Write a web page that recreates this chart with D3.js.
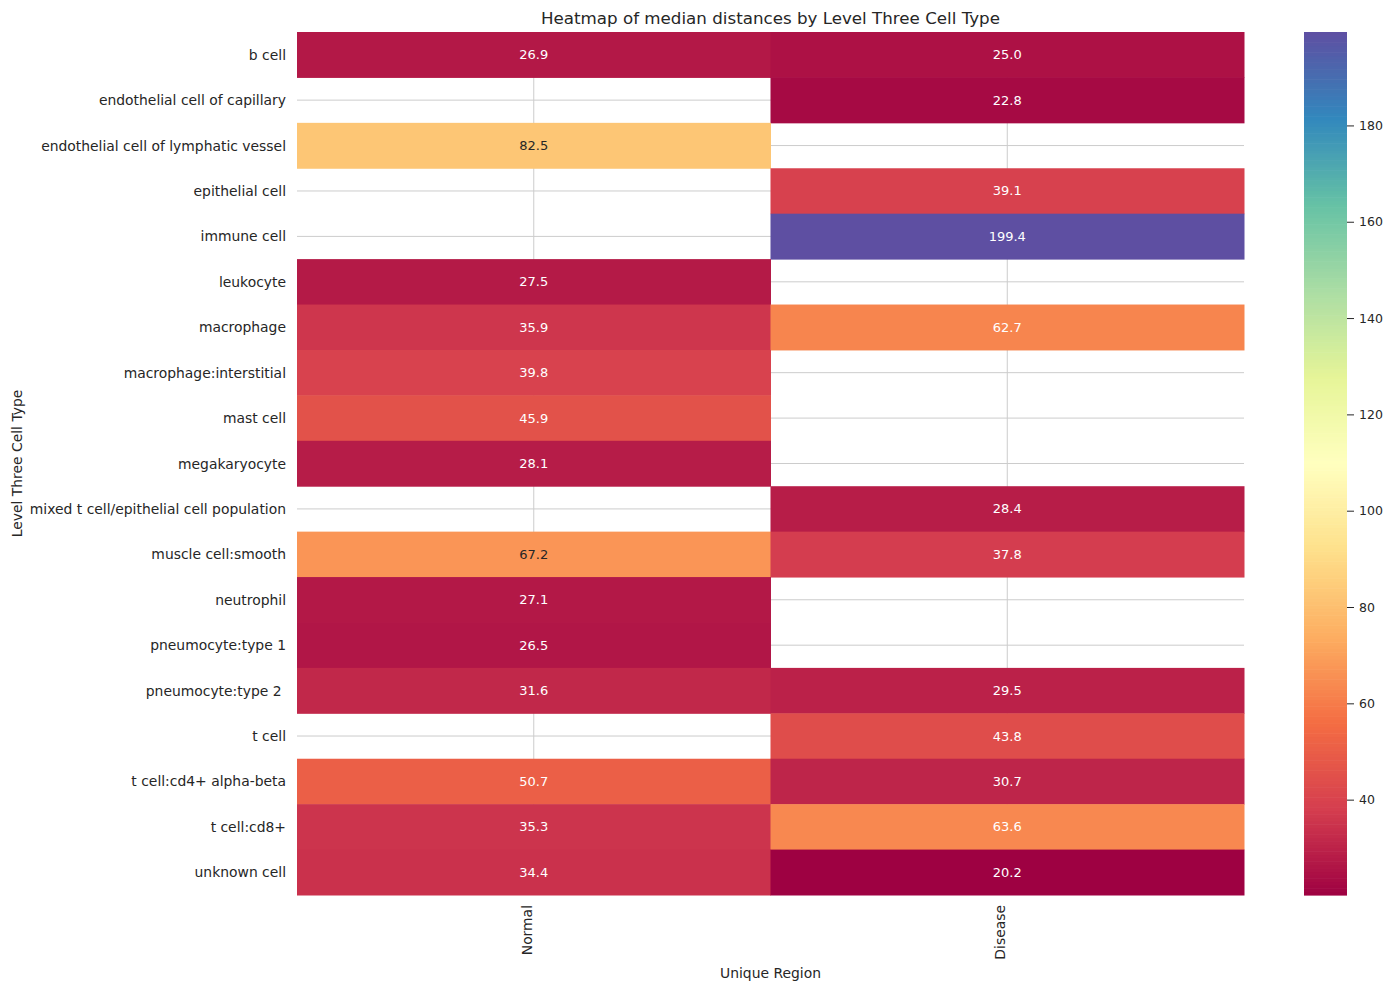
<!DOCTYPE html>
<html>
<head>
<meta charset="utf-8">
<script src="https://cdn.jsdelivr.net/npm/d3@7"></script>
<style>
  body { margin: 0; background: #fff; }
  text { font-family: "DejaVu Sans", sans-serif; fill: #262626; }
</style>
</head>
<body>
<div id="chart"></div>
<script>
// Heatmap data
const cellTypes = [
    "b cell", "endothelial cell of capillary", "endothelial cell of lymphatic vessel",
    "epithelial cell", "immune cell", "leukocyte", "macrophage", "macrophage:interstitial",
    "mast cell", "megakaryocyte", "mixed t cell/epithelial cell population",
    "muscle cell:smooth", "neutrophil", "pneumocyte:type 1", "pneumocyte:type 2 ",
    "t cell", "t cell:cd4+ alpha-beta", "t cell:cd8+", "unknown cell"
];
const regions = ["Normal", "Disease"];
const normalValues = [26.9, null, 82.5, null, null, 27.5, 35.9, 39.8, 45.9, 28.1, null,
                      67.2, 27.1, 26.5, 31.6, null, 50.7, 35.3, 34.4];
const diseaseValues = [25.0, 22.8, null, 39.1, 199.4, null, 62.7, null, null, null, 28.4,
                       37.8, null, null, 29.5, 43.8, 30.7, 63.6, 20.2];
const colorbarTicks = [40, 60, 80, 100, 120, 140, 160, 180];
const spectral = ["#9e0142", "#d53e4f", "#f46d43", "#fdae61", "#fee08b", "#ffffbf",
                  "#e6f598", "#abdda4", "#66c2a5", "#3288bd", "#5e4fa2"];

const W = 1391, H = 991;
const margin = {top: 32, left: 297},
      width = 947,
      height = 863;

const svg = d3.select("#chart").append("svg")
              .attr("width", W)
              .attr("height", H);

const g = svg.append("g").attr("transform", `translate(${margin.left},${margin.top})`);

const x = d3.scaleBand().domain(regions).range([0, width]);
const y = d3.scaleBand().domain(cellTypes).range([0, height]);

const allVals = normalValues.concat(diseaseValues).filter(v => v != null);
const vmin = d3.min(allVals), vmax = d3.max(allVals);

// linear segmented colormap like matplotlib
const color = d3.scaleLinear()
                .domain(spectral.map((c, i) => vmin + (vmax - vmin) * i / (spectral.length - 1)))
                .range(spectral)
                .interpolate(d3.interpolateRgb)
                .clamp(true);

// grid lines (behind cells)
g.selectAll(".hgrid")
 .data(cellTypes)
 .enter().append("line")
 .attr("x1", 0).attr("x2", width)
 .attr("y1", d => y(d) + y.bandwidth() / 2)
 .attr("y2", d => y(d) + y.bandwidth() / 2)
 .attr("stroke", "#cccccc").attr("stroke-width", 1);

g.selectAll(".vgrid")
 .data(regions)
 .enter().append("line")
 .attr("y1", 0).attr("y2", height)
 .attr("x1", d => x(d) + x.bandwidth() / 2)
 .attr("x2", d => x(d) + x.bandwidth() / 2)
 .attr("stroke", "#cccccc").attr("stroke-width", 1);

// cells
const cells = [];
cellTypes.forEach((c, i) => {
    if (normalValues[i] != null) cells.push({row: c, col: "Normal", v: normalValues[i]});
    if (diseaseValues[i] != null) cells.push({row: c, col: "Disease", v: diseaseValues[i]});
});

function luminance(c) {
    const rgb = d3.rgb(c);
    const lin = v => {
        v = v / 255;
        return v <= 0.03928 ? v / 12.92 : Math.pow((v + 0.055) / 1.055, 2.4);
    };
    return 0.2126 * lin(rgb.r) + 0.7152 * lin(rgb.g) + 0.0722 * lin(rgb.b);
}

g.selectAll("rect.cell")
 .data(cells)
 .enter().append("rect")
 .attr("class", "cell")
 .attr("x", d => x(d.col))
 .attr("y", d => y(d.row))
 .attr("width", x.bandwidth() + 0.5)
 .attr("height", y.bandwidth() + 0.5)
 .attr("fill", d => color(d.v));

g.selectAll("text.annot")
 .data(cells)
 .enter().append("text")
 .attr("class", "annot")
 .attr("x", d => x(d.col) + x.bandwidth() / 2)
 .attr("y", d => y(d.row) + y.bandwidth() / 2)
 .attr("text-anchor", "middle")
 .attr("dominant-baseline", "central")
 .style("font-size", "13px")
 .style("fill", d => luminance(color(d.v)) > 0.408 ? "#262626" : "#ffffff")
 .text(d => d.v.toFixed(1));

// row labels (keep trailing spaces)
g.selectAll("text.ylab")
 .data(cellTypes)
 .enter().append("text")
 .attr("class", "ylab")
 .attr("x", -11)
 .attr("y", d => y(d) + y.bandwidth() / 2)
 .attr("text-anchor", "end")
 .attr("dominant-baseline", "central")
 .style("font-size", "13.9px")
 .style("white-space", "pre")
 .text(d => d);

// column labels (rotated)
g.selectAll("text.xlab")
 .data(regions)
 .enter().append("text")
 .attr("class", "xlab")
 .attr("transform", d => `translate(${x(d) + x.bandwidth() / 2 - 7},${height + 10}) rotate(-90)`)
 .attr("text-anchor", "end")
 .attr("dominant-baseline", "central")
 .style("font-size", "13.9px")
 .text(d => d);

// axis titles
svg.append("text")
   .attr("x", margin.left + width / 2)
   .attr("y", 978)
   .attr("text-anchor", "middle")
   .style("font-size", "13.9px")
   .text("Unique Region");

svg.append("text")
   .attr("transform", `translate(17,${margin.top + height / 2}) rotate(-90)`)
   .attr("text-anchor", "middle")
   .attr("dominant-baseline", "central")
   .style("font-size", "13.9px")
   .text("Level Three Cell Type");

svg.append("text")
   .attr("x", margin.left + width / 2)
   .attr("y", 24)
   .attr("text-anchor", "middle")
   .style("font-size", "16.7px")
   .text("Heatmap of median distances by Level Three Cell Type");

// colorbar
const cbX = 1304, cbW = 43;
const cbY = d3.scaleLinear().domain([vmin, vmax]).range([margin.top + height, margin.top]);
const steps = d3.range(0, 256);
const stepH = height / steps.length;
svg.append("g").selectAll("rect")
   .data(steps)
   .enter().append("rect")
   .attr("x", cbX)
   .attr("y", d => margin.top + height - (d + 1) * stepH)
   .attr("width", cbW)
   .attr("height", stepH + 0.6)
   .attr("fill", d => color(vmin + (vmax - vmin) * (d + 0.5) / steps.length));

const cbAxis = svg.append("g")
   .attr("transform", `translate(${cbX + cbW},0)`)
   .call(d3.axisRight(cbY).tickValues(colorbarTicks).tickSize(7).tickPadding(5));
cbAxis.select(".domain").remove();
cbAxis.selectAll(".tick line").attr("stroke", "#262626");
cbAxis.selectAll(".tick text")
      .style("font-size", "12.5px")
      .style("font-family", "DejaVu Sans, sans-serif")
      .attr("fill", "#262626");
</script>
</body>
</html>
